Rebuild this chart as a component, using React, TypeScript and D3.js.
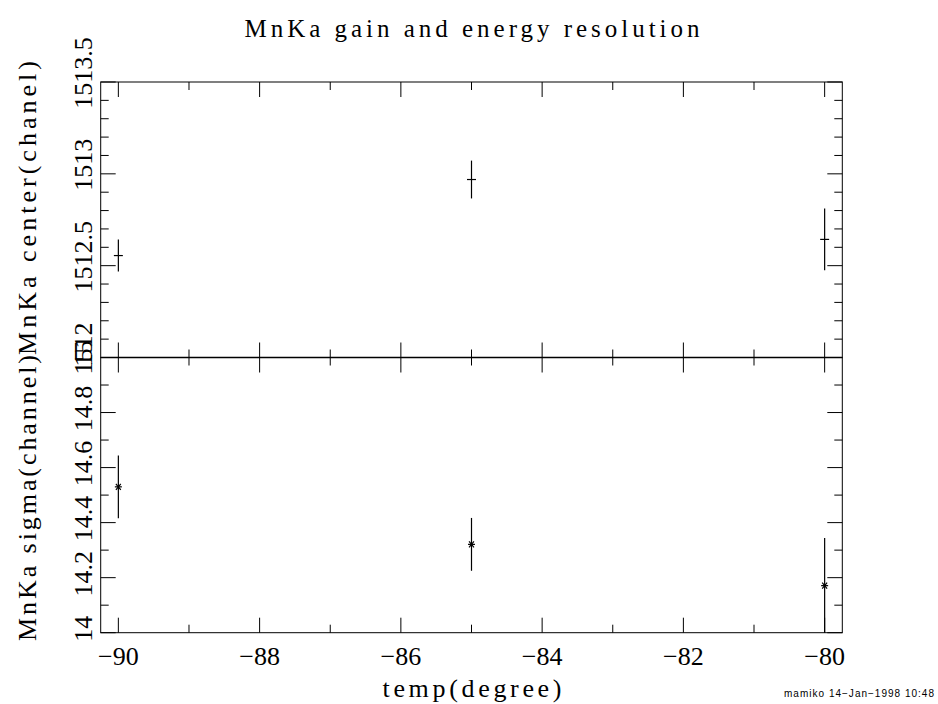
import React from "react";
import * as d3 from "d3";

const temps = [-90, -85, -80];
const centerVals = [1512.555, 1512.969, 1512.643];
const centerErr = [0.087, 0.103, 0.168];
const sigmaVals = [14.53, 14.321, 14.171];
const sigmaErr = [0.114, 0.096, 0.173];

const xMajor = [-90, -88, -86, -84, -82, -80];
const xMajorLabels = ["−90", "−88", "−86", "−84", "−82", "−80"];
const xMinor = [-89, -87, -85, -83, -81];
const centerMajor = [1512, 1512.5, 1513, 1513.5];
const centerMajorLabels = ["1512", "1512.5", "1513", "1513.5"];
const centerMinor = [1512.1, 1512.2, 1512.3, 1512.4, 1512.6, 1512.7, 1512.8, 1512.9, 1513.1, 1513.2, 1513.3, 1513.4];
const sigmaMajor = [14, 14.2, 14.4, 14.6, 14.8, 15];
const sigmaMajorLabels = ["14", "14.2", "14.4", "14.6", "14.8", "15"];
const sigmaMinor = [14.1, 14.3, 14.5, 14.7, 14.9];

const title = "MnKa gain and energy resolution";
const xTitle = "temp(degree)";
const topYTitle = "MnKa center(chanel)";
const botYTitle = "MnKa sigma(channel)";
const footer = "mamiko 14−Jan−1998 10:48";

const W = 938, H = 704;
const L = 100.7, R = 842.3, T = 82, M = 357.5, B = 632.7;
const MAJ = 15, MIN = 8;
const FONT = "'Liberation Serif', serif";

export default function App() {
  const x = d3.scaleLinear().domain([-90.25, -79.75]).range([L, R]);
  const yTop = d3.scaleLinear().domain([1512, 1513.5]).range([M, T]);
  const yBot = d3.scaleLinear().domain([14, 15]).range([B, M]);

  const lines: JSX.Element[] = [];
  let k = 0;
  const ln = (x1: number, y1: number, x2: number, y2: number, w = 1) =>
    lines.push(<line key={k++} x1={x1} y1={y1} x2={x2} y2={y2} stroke="#000" strokeWidth={w} />);

  // x ticks on top of top, divider both ways, bottom of bottom
  const xt = (v: number, len: number) => {
    const px = x(v);
    ln(px, T, px, T + len);
    ln(px, M, px, M - len);
    ln(px, M, px, M + len);
    ln(px, B, px, B - len);
  };
  xMajor.forEach((v) => xt(v, MAJ));
  xMinor.forEach((v) => xt(v, MIN));

  const yt = (py: number, len: number) => {
    ln(L, py, L + len, py);
    ln(R, py, R - len, py);
  };
  centerMajor.forEach((v) => yt(yTop(v), MAJ));
  centerMinor.forEach((v) => yt(yTop(v), MIN));
  sigmaMajor.forEach((v) => yt(yBot(v), MAJ));
  sigmaMinor.forEach((v) => yt(yBot(v), MIN));

  // data top
  temps.forEach((t, i) => {
    const px = x(t);
    ln(px, yTop(centerVals[i] - centerErr[i]), px, yTop(centerVals[i] + centerErr[i]), 1.2);
    const py = yTop(centerVals[i]);
    ln(px - 4.5, py, px + 4.5, py, 1.2);
  });
  // data bottom
  temps.forEach((t, i) => {
    const px = x(t);
    const lo = Math.max(14, sigmaVals[i] - sigmaErr[i]);
    ln(px, yBot(lo), px, yBot(sigmaVals[i] + sigmaErr[i]), 1.2);
    const py = yBot(sigmaVals[i]);
    const s = 3.5;
    ln(px - s, py, px + s, py, 1.2);
    ln(px - s * 0.7, py - s * 0.85, px + s * 0.7, py + s * 0.85, 1.2);
    ln(px - s * 0.7, py + s * 0.85, px + s * 0.7, py - s * 0.85, 1.2);
  });

  return (
    <svg width={W} height={H} style={{ position: "absolute", left: 0, top: 0, background: "#fff" }}>
      <rect x={0} y={0} width={W} height={H} fill="#fff" />
      <rect x={L} y={T} width={R - L} height={B - T} fill="none" stroke="#000" strokeWidth={1} />
      <line x1={L} y1={M} x2={R} y2={M} stroke="#000" strokeWidth={1.3} />
      {lines}
      <g fontFamily={FONT} fill="#000">
        <text x={472} y={37} fontSize={25} textAnchor="middle" textLength={455} lengthAdjust="spacing">{title}</text>
        {xMajor.map((v, i) => (
          <text key={"xl" + i} x={x(v)} y={665} fontSize={26} textAnchor="middle">{xMajorLabels[i]}</text>
        ))}
        <text x={472} y={697} fontSize={26} textAnchor="middle" textLength={179} lengthAdjust="spacing">{xTitle}</text>
        {centerMajor.map((v, i) => (
          <text key={"cl" + i} transform={`translate(92,${yTop(v) - 9}) rotate(-90)`} fontSize={26} textAnchor="middle">{centerMajorLabels[i]}</text>
        ))}
        {sigmaMajor.map((v, i) => (
          <text key={"sl" + i} transform={`translate(92,${yBot(v) - 4}) rotate(-90)`} fontSize={26} textAnchor="middle">{sigmaMajorLabels[i]}</text>
        ))}
        <text transform={`translate(36,208) rotate(-90)`} fontSize={26} textAnchor="middle" textLength={294} lengthAdjust="spacing">{topYTitle}</text>
        <text transform={`translate(36,498) rotate(-90)`} fontSize={26} textAnchor="middle" textLength={286} lengthAdjust="spacing">{botYTitle}</text>
      </g>
      <text x={934} y={697} fontSize={10} fontFamily="'Liberation Sans', sans-serif" textAnchor="end" textLength={150} lengthAdjust="spacing">{footer}</text>
    </svg>
  );
}
